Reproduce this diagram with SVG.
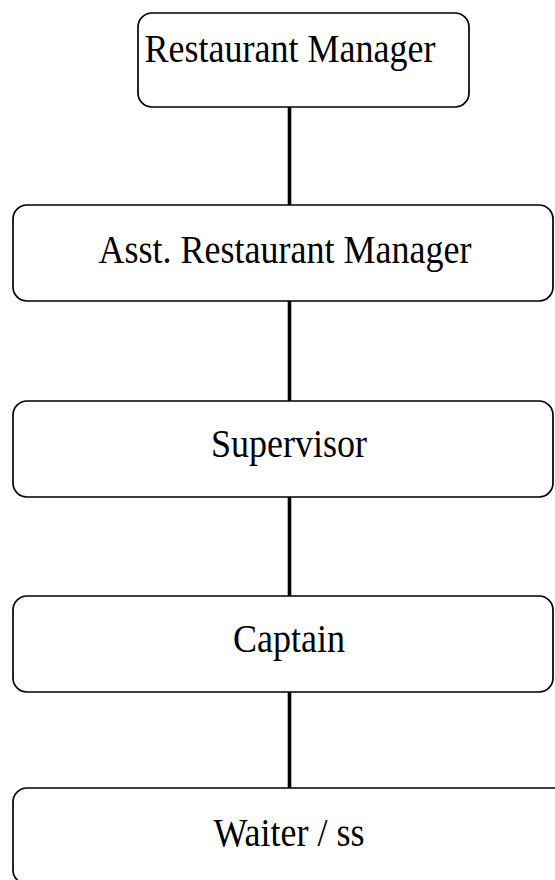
<svg xmlns="http://www.w3.org/2000/svg" width="555" height="880" viewBox="0 0 555 880">
<style>
.box{fill:#fff;stroke:#000;stroke-width:1.7}
.lbl{font-family:"Liberation Serif","Times New Roman",serif;font-size:36px;fill:#000;text-anchor:middle}
.conn{stroke:#000;stroke-width:3.6;fill:none}
</style>
<rect width="555" height="880" fill="#fff"/>
<g id="connectors">
<line class="conn" x1="289.5" y1="107" x2="289.5" y2="205"/>
<line class="conn" x1="289.5" y1="301" x2="289.5" y2="401"/>
<line class="conn" x1="289.5" y1="497" x2="289.5" y2="596"/>
<line class="conn" x1="289.5" y1="692" x2="289.5" y2="788"/>
</g>
<g id="n1"><rect class="box" x="138" y="13" width="331" height="94" rx="14"/><text class="lbl" transform="translate(290,62) scale(1,1.1)">Restaurant Manager</text></g>
<g id="n2"><rect class="box" x="13" y="205" width="540" height="96" rx="14"/><text class="lbl" transform="translate(285,263) scale(1,1.1)">Asst. Restaurant Manager</text></g>
<g id="n3"><rect class="box" x="13" y="401" width="540" height="96" rx="14"/><text class="lbl" transform="translate(289,457) scale(1,1.1)">Supervisor</text></g>
<g id="n4"><rect class="box" x="13" y="596" width="540" height="96" rx="14"/><text class="lbl" transform="translate(289,652) scale(1,1.1)">Captain</text></g>
<g id="n5"><rect class="box" x="13" y="788" width="560" height="96" rx="14"/><text class="lbl" transform="translate(289,846) scale(1,1.1)">Waiter / ss</text></g>
</svg>
